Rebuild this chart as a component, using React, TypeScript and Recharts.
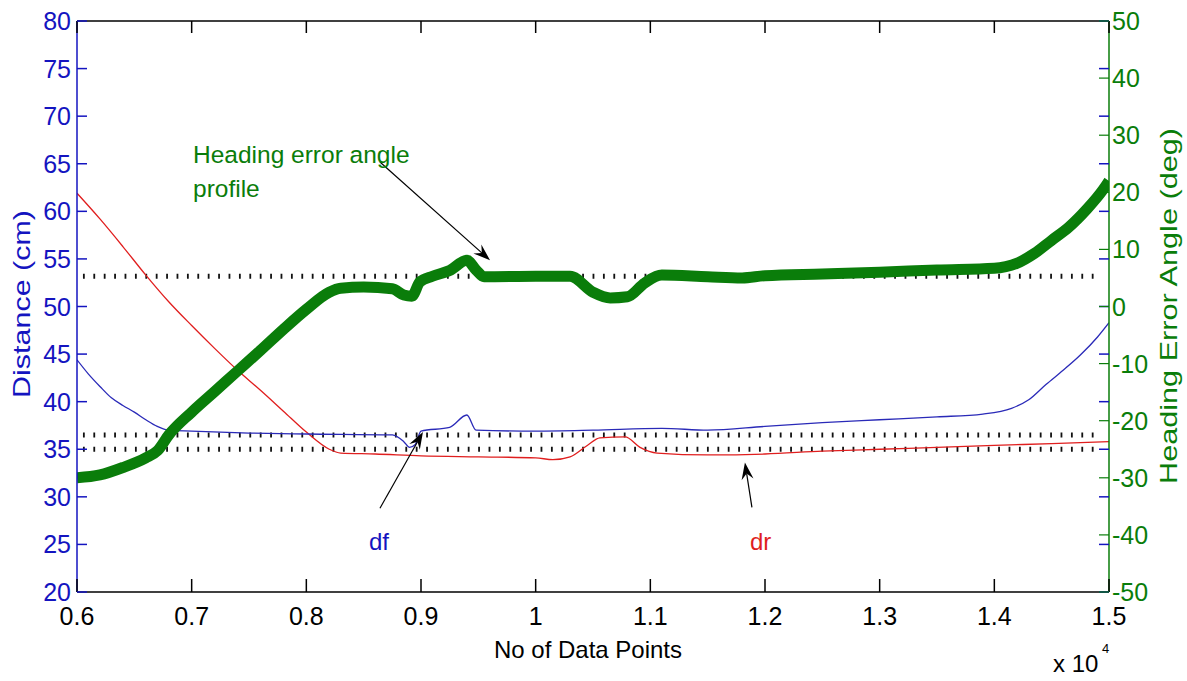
import { LineChart, Line, XAxis, YAxis, ReferenceLine } from 'recharts';

const W = 1187;
const H = 681;
// plot box edges in px (used for the inward tick marks)
const PLOT = { left: 77, top: 21, right: 1109, bottom: 592 };

const FONT = '"Liberation Sans", Arial, Helvetica, sans-serif';
const BLUE = '#1414c0';
const GREEN = '#0a7d0a';
const RED = '#e01e1e';

// axis ticks
const xTicks = [6000, 7000, 8000, 9000, 10000, 11000, 12000, 13000, 14000, 15000];
const xTickLabels = ['0.6', '0.7', '0.8', '0.9', '1', '1.1', '1.2', '1.3', '1.4', '1.5'];
const distTicks = [20, 25, 30, 35, 40, 45, 50, 55, 60, 65, 70, 75, 80];
const angleTicks = [-50, -40, -30, -20, -10, 0, 10, 20, 30, 40, 50];

// heading error angle (deg), right axis
const headingX = [
  6000, 6200, 6400, 6600, 6700, 6800, 7000, 7200, 7400, 7600, 7800, 8000, 8200, 8300, 8500,
  8750, 8850, 8920, 8990, 9100, 9250, 9400, 9480, 9550, 10000, 10300, 10500, 10650, 10800,
  10950, 11100, 11500, 11800, 12000, 12500, 13000, 13500, 14000, 14100, 14200, 14350, 14500,
  14650, 14800, 14950, 15000,
];
const headingDeg = [
  -30, -29.5, -28.2, -26.5, -25.3, -22.5, -18.5, -14.9, -11.3, -7.7, -4, -0.5, 2.5, 3.2, 3.4,
  3.1, 2.0, 1.8, 4.3, 5.3, 6.3, 8.1, 6.4, 5.2, 5.3, 5.3, 2.5, 1.5, 1.7,
  4.1, 5.5, 5.2, 5.0, 5.4, 5.7, 6.0, 6.4, 6.7, 7.0, 7.6, 9.3, 11.6,
  13.9, 16.9, 20.5, 22,
];

// df (cm), left axis
const dfX = [
  6000, 6100, 6200, 6300, 6400, 6500, 6600, 6700, 6800, 7000, 7500, 8000, 8750, 8850, 8900,
  8950, 9000, 9250, 9400, 9480, 10000, 10500, 11100, 11500, 12000, 12500, 13000, 13500,
  13900, 14150, 14300, 14450, 14600, 14750, 14900, 15000,
];
const dfCm = [
  44.4, 42.9, 41.6, 40.4, 39.6, 38.9, 38.1, 37.4, 37.0, 36.9, 36.7, 36.6, 36.5, 35.8, 35.2,
  35.5, 36.9, 37.3, 38.6, 37.0, 36.9, 37.0, 37.2, 37.0, 37.4, 37.8, 38.1, 38.4,
  38.7, 39.3, 40.2, 41.8, 43.3, 44.9, 46.8, 48.3,
];

// dr (cm), left axis
const drX = [
  6000, 6200, 6400, 6600, 6800, 7000, 7200, 7400, 7600, 7800, 8000, 8200, 8300, 8600, 9000,
  9500, 10000, 10150, 10300, 10450, 10560, 10780, 10910, 11060, 11500, 12000, 12500, 13000,
  13500, 14000, 14500, 15000,
];
const drCm = [
  61.9, 59.2, 56.3, 53.3, 50.5, 48.0, 45.6, 43.3, 41.2, 39.0, 36.8, 35.0, 34.6, 34.5, 34.3,
  34.2, 34.1, 33.9, 34.2, 35.4, 36.2, 36.3, 35.2, 34.6, 34.4, 34.5, 34.8, 35.0,
  35.2, 35.4, 35.6, 35.8,
];

const zip = (xs: number[], ys: number[]) => xs.map((x, i) => ({ x, y: ys[i] }));
const headingData = zip(headingX, headingDeg);
const dfData = zip(dfX, dfCm);
const drData = zip(drX, drCm);

const XTick = (p: any) => {
  const { x, payload } = p;
  const label = xTickLabels[xTicks.indexOf(payload.value)];
  return (
    <g>
      <text x={x} y={625} textAnchor="middle" fontSize={25} fontFamily={FONT} fill="#000">
        {label}
      </text>
      <line x1={x} x2={x} y1={PLOT.bottom} y2={PLOT.bottom - 13} stroke="#000" strokeWidth={1.5} />
      <line x1={x} x2={x} y1={PLOT.top} y2={PLOT.top + 12} stroke="#000" strokeWidth={1.5} />
    </g>
  );
};

const LeftTick = (p: any) => {
  const { y, payload } = p;
  return (
    <g>
      <text x={71} y={y + 9} textAnchor="end" fontSize={25} fontFamily={FONT} fill={BLUE}>
        {payload.value}
      </text>
      <line x1={PLOT.left} x2={PLOT.left + 10} y1={y} y2={y} stroke={BLUE} strokeWidth={1.5} />
      <line x1={PLOT.right - 10} x2={PLOT.right} y1={y} y2={y} stroke={BLUE} strokeWidth={1.5} />
    </g>
  );
};

const RightTick = (p: any) => {
  const { y, payload } = p;
  return (
    <g>
      <text x={1112} y={y + 9} textAnchor="start" fontSize={25} fontFamily={FONT} fill={GREEN}>
        {payload.value}
      </text>
      <line x1={PLOT.right - 10} x2={PLOT.right} y1={y} y2={y} stroke={GREEN} strokeWidth={1.2} />
    </g>
  );
};

// annotation arrow with a notched head at the (x2, y2) end
const Arrow = (p: any) => {
  const { x1, y1, x2, y2 } = p;
  const a = Math.atan2(y2 - y1, x2 - x1);
  const pt = (d: number, o: number) =>
    `${x2 - d * Math.cos(a) - o * Math.sin(a)},${y2 - d * Math.sin(a) + o * Math.cos(a)}`;
  const [nx, ny] = pt(11, 0).split(',').map(Number);
  return (
    <g>
      <line x1={x1} y1={y1} x2={nx} y2={ny} stroke="#000" strokeWidth={1.2} />
      <polygon points={`${x2},${y2} ${pt(17, 6)} ${pt(11, 0)} ${pt(17, -6)}`} fill="#000" />
    </g>
  );
};

const dotted = { stroke: '#111', strokeWidth: 5, strokeDasharray: '1.8 8.6' };

export default function App() {
  return (
    <div style={{ position: 'absolute', left: 0, top: 0, width: W, height: H, background: '#fff' }}>
      <LineChart width={W} height={H} margin={{ top: 21, right: 0, bottom: 0, left: 0 }}>
        <XAxis
          xAxisId="x"
          type="number"
          dataKey="x"
          domain={[6000, 15000]}
          ticks={xTicks}
          interval={0}
          height={89}
          axisLine={{ stroke: '#000', strokeWidth: 1.5 }}
          tickLine={false}
          tick={(p: any) => <XTick {...p} />}
          allowDataOverflow
        />
        <YAxis
          yAxisId="left"
          domain={[20, 80]}
          ticks={distTicks}
          interval={0}
          width={77}
          axisLine={{ stroke: BLUE, strokeWidth: 1.5 }}
          tickLine={false}
          tick={(p: any) => <LeftTick {...p} />}
          allowDataOverflow
        />
        <YAxis
          yAxisId="right"
          orientation="right"
          domain={[-50, 50]}
          ticks={angleTicks}
          interval={0}
          width={78}
          axisLine={{ stroke: GREEN, strokeWidth: 1.5 }}
          tickLine={false}
          tick={(p: any) => <RightTick {...p} />}
          allowDataOverflow
        />

        <ReferenceLine xAxisId="x" yAxisId="left" y={80} stroke="#000" strokeWidth={1.5} />
        <ReferenceLine
          xAxisId="x"
          yAxisId="right"
          segment={[{ x: 6052, y: 5.3 }, { x: 14904, y: 5.3 }]}
          {...dotted}
        />
        <ReferenceLine
          xAxisId="x"
          yAxisId="left"
          segment={[{ x: 6052, y: 36.5 }, { x: 14904, y: 36.5 }]}
          {...dotted}
        />
        <ReferenceLine
          xAxisId="x"
          yAxisId="left"
          segment={[{ x: 6052, y: 35 }, { x: 14904, y: 35 }]}
          {...dotted}
        />

        <Line
          xAxisId="x"
          yAxisId="left"
          data={drData}
          dataKey="y"
          type="monotone"
          stroke={RED}
          strokeWidth={1.3}
          dot={false}
          isAnimationActive={false}
        />
        <Line
          xAxisId="x"
          yAxisId="left"
          data={dfData}
          dataKey="y"
          type="monotone"
          stroke="#2a2ab8"
          strokeWidth={1.3}
          dot={false}
          isAnimationActive={false}
        />
        <Line
          xAxisId="x"
          yAxisId="right"
          data={headingData}
          dataKey="y"
          type="monotone"
          stroke={GREEN}
          strokeWidth={11}
          dot={false}
          isAnimationActive={false}
        />

        <ReferenceLine
          xAxisId="x"
          yAxisId="right"
          segment={[{ x: 8642, y: 25.3 }, { x: 9602, y: 8.1 }]}
          shape={(p: any) => <Arrow {...p} />}
        />
        <ReferenceLine
          xAxisId="x"
          yAxisId="left"
          segment={[{ x: 8642, y: 28.8 }, { x: 9017, y: 36.8 }]}
          shape={(p: any) => <Arrow {...p} />}
        />
        <ReferenceLine
          xAxisId="x"
          yAxisId="left"
          segment={[{ x: 11886, y: 28.9 }, { x: 11825, y: 33.6 }]}
          shape={(p: any) => <Arrow {...p} />}
        />
      </LineChart>

      <svg
        width={W}
        height={H}
        style={{ position: 'absolute', left: 0, top: 0, pointerEvents: 'none' }}
        fontFamily={FONT}
      >
        <text x={193} y={163} fontSize={24.5} fill={GREEN}>Heading error angle</text>
        <text x={193} y={197} fontSize={24.5} fill={GREEN}>profile</text>
        <text x={369} y={550} fontSize={24} fill={BLUE}>df</text>
        <text x={750} y={550} fontSize={24} fill={RED}>dr</text>

        <text
          transform="translate(30,304) rotate(-90)"
          textAnchor="middle"
          fontSize={24}
          fill={BLUE}
          textLength={188}
          lengthAdjust="spacingAndGlyphs"
        >
          Distance (cm)
        </text>
        <text
          transform="translate(1177,306) rotate(-90)"
          textAnchor="middle"
          fontSize={24}
          fill={GREEN}
          textLength={356}
          lengthAdjust="spacingAndGlyphs"
        >
          Heading Error Angle (deg)
        </text>

        <text x={588} y={658} textAnchor="middle" fontSize={24} fill="#000">No of Data Points</text>
        <text x={1053} y={672} fontSize={24} fill="#000">x 10</text>
        <text x={1102} y={653} fontSize={13} fill="#000">4</text>
      </svg>
    </div>
  );
}
